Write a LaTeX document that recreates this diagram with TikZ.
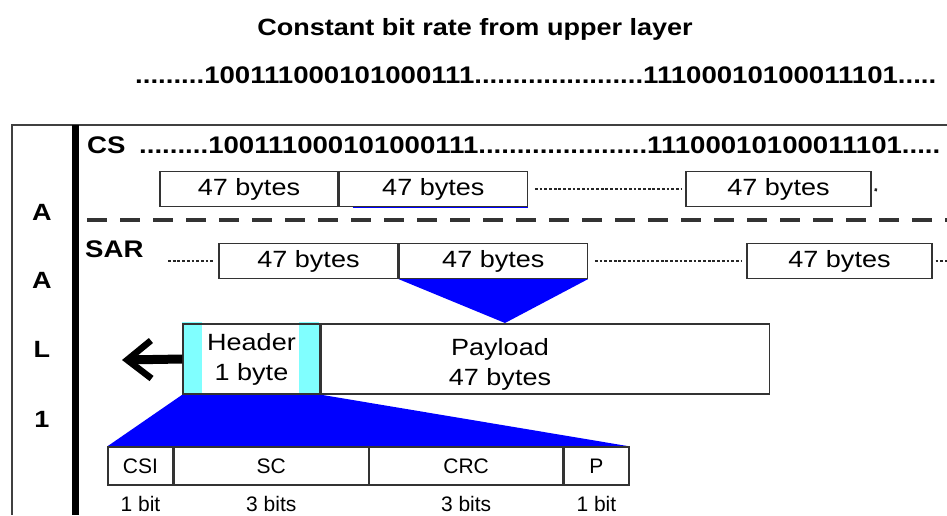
\documentclass[tikz,border=0pt]{standalone}
\usepackage{fontspec}
\setmainfont{Liberation Sans}[FakeStretch=1.15]
\newfontfamily\cellfont{Liberation Sans}
\usetikzlibrary{positioning,arrows.meta,backgrounds}
\definecolor{pdublue}{RGB}{0,0,255}
\definecolor{hdrcyan}{RGB}{128,255,255}

\begin{document}
\begin{tikzpicture}[
  x=1pt, y=-1pt,
  font=\fontsize{23.5}{30}\selectfont,
  block/.style={rectangle, draw=black!80, line width=1.3pt, minimum height=35pt, inner sep=0pt},
  field/.style={rectangle, draw=black!80, line width=1.3pt, minimum height=38pt, inner sep=0pt, font=\cellfont\fontsize{21}{24}\selectfont},
  bitcount/.style={inner sep=0pt, font=\cellfont\fontsize{21}{24}\selectfont},
  stream/.style={inner sep=0pt, anchor=base west, font=\bfseries\fontsize{24}{30}\selectfont},
  letter/.style={inner sep=0pt, anchor=base, font=\bfseries\fontsize{23.5}{30}\selectfont},
  gap/.style={line width=2.8pt, dash pattern=on 2.8pt off 1.9pt, black!85}
]
\useasboundingbox (0,0) rectangle (947,515);

\node[letter] (title) at (475,35) {Constant bit rate from upper layer};
\node[stream] (upper) at (135,83) {.........100111000101000111......................11100010100011101.....};

\draw[black!75, line width=1.5pt] (947,125) -- (12,125) -- (12,515);
\draw[line width=6.5pt] (75.5,125) -- (75.5,515);
\node[letter] (a1) at (42,220) {A};
\node[letter] (a2) at (42,288) {A};
\node[letter] (l1) at (42,357) {L};
\node[letter] (n1) at (42,427) {1};

\node[stream] (cs) at (87,153) {CS};
\node[stream] (csbits) at (139,153) {.........100111000101000111......................11100010100011101.....};
\node[block, minimum width=178pt] (cs1) at (249,189) {47 bytes};
\node[block, minimum width=188pt, right=0pt of cs1] (cs2) {47 bytes};
\node[block, minimum width=185pt] (cs3) at (778.5,189) {47 bytes};
\coordinate (csend) at (877,190);
\draw[pdublue, line width=1.3pt] ([xshift=14pt]cs2.south west) -- (cs2.south east);
\draw[gap, shorten <=7pt, shorten >=4pt] (cs2.east) -- (cs3.west);
\draw[gap, shorten <=3pt] (cs3.east) -- (csend);

\draw[black!80, line width=3.5pt, dash pattern=on 20pt off 13pt] (87,220) -- (947,220);

\node[stream] (sar) at (85,257) {SAR};
\coordinate (sarin) at (168,261);
\node[block, minimum width=179pt] (sar1) at (308.5,261) {47 bytes};
\node[block, minimum width=188pt, right=0pt of sar1] (sar2) {47 bytes};
\node[block, minimum width=185pt] (sar3) at (839.5,261) {47 bytes};
\coordinate (sarout) at (950,261);
\draw[gap, shorten >=4pt] (sarin) -- (sar1.west);
\draw[gap, shorten <=7pt, shorten >=5pt] (sar2.east) -- (sar3.west);
\draw[gap, shorten <=3pt] (sar3.east) -- (sarout);

\node[block, minimum width=137pt, minimum height=70pt, align=center] (hdr) at (251.5,359) {Header\\1 byte};
\node[block, minimum width=448pt, minimum height=70pt, right=0pt of hdr] (payload) {};
\node[align=center, inner sep=0pt] (paytext) at (500,364) {Payload\\47 bytes};
\coordinate (apex) at (505,323);
\coordinate (arrowtip) at (122,360);
\draw[line width=9pt, -{Straight Barb[length=24pt, width=38pt, line width=6.5pt]}] (hdr.west) -- (arrowtip);

\node[field, minimum width=65pt] (csi) at (140.5,466) {CSI};
\node[field, minimum width=194pt, right=0pt of csi] (sc) {SC};
\node[field, minimum width=193pt, right=0pt of sc] (crc) {CRC};
\node[field, minimum width=65pt, right=0pt of crc] (par) {P};

\node[bitcount, below=10pt of csi] (csilen) {1 bit};
\node[bitcount, below=10pt of sc] (sclen) {3 bits};
\node[bitcount, below=10pt of crc] (crclen) {3 bits};
\node[bitcount, below=10pt of par] (parlen) {1 bit};

\begin{scope}[on background layer]
  \fill[pdublue] (sar2.south west) -- (sar2.south east) -- (apex) -- cycle;
  \fill[pdublue] (hdr.south west) -- (hdr.south east) -- (par.north east) -- (csi.north west) -- cycle;
  \fill[hdrcyan] ([yshift=1pt]hdr.north west) rectangle ([xshift=20pt]hdr.south west);
  \fill[hdrcyan] ([xshift=-22pt,yshift=1pt]hdr.north east) rectangle ([xshift=-2pt]hdr.south east);
\end{scope}
\end{tikzpicture}
\end{document}
